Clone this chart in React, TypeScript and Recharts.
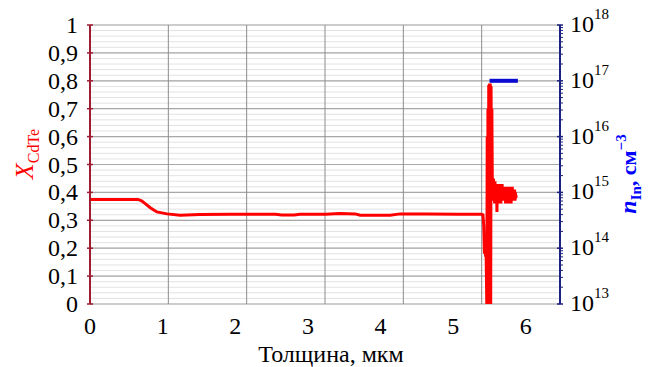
import React from 'react';
import { LineChart, Line, XAxis, YAxis, CartesianGrid, ReferenceLine } from 'recharts';

// Composition profile X_CdTe along the layer thickness, µm
const thickness = [
  0, 0.3, 0.66, 0.71, 0.76, 0.83, 0.92, 1.06, 1.24, 1.51, 1.94, 2.37, 2.55, 2.64, 2.81, 2.89, 3.24, 3.44,
  3.65, 3.72, 3.88, 4.13, 4.27, 4.64, 5.07, 5.39, 5.41,
  // interface region
  5.42, 5.43, 5.435, 5.446, 5.451, 5.462, 5.468, 5.473, 5.478, 5.484, 5.489, 5.494, 5.5, 5.505, 5.51,
  5.516, 5.521, 5.527, 5.532, 5.538,
  // cap layer
  5.543, 5.548, 5.554, 5.559, 5.565, 5.57, 5.575, 5.581, 5.586, 5.592, 5.597, 5.602, 5.608, 5.613,
  5.619, 5.624, 5.629, 5.635, 5.64, 5.646, 5.651, 5.656, 5.662, 5.667, 5.673, 5.678, 5.683, 5.689,
  5.694, 5.7, 5.705, 5.71, 5.716, 5.721, 5.727, 5.732, 5.737, 5.743, 5.748, 5.754, 5.759, 5.764,
  5.77, 5.775, 5.781, 5.786, 5.791, 5.797, 5.802, 5.808, 5.813, 5.818, 5.824, 5.829, 5.835, 5.84,
  5.845, 5.851, 5.856, 5.862, 5.866, 5.872,
];
const xCdTe = [
  0.375, 0.375, 0.375, 0.37, 0.36, 0.345, 0.33, 0.323, 0.318, 0.321, 0.322, 0.322, 0.322, 0.319, 0.319,
  0.322, 0.322, 0.324, 0.323, 0.318, 0.318, 0.318, 0.323, 0.323, 0.322, 0.322, 0.32,
  0.28, 0.18, 0.24, 0.17, 0.22, 0.0, 0.6, 0.0, 0.7, 0.0, 0.785, 0.0, 0.79, 0.02, 0.79,
  0.0, 0.78, 0.45, 0.7, 0.44,
  0.44, 0.37, 0.45, 0.38, 0.43, 0.36, 0.44, 0.37, 0.42, 0.36, 0.43, 0.33, 0.42, 0.37,
  0.43, 0.36, 0.42, 0.37, 0.43, 0.38, 0.42, 0.36, 0.42, 0.37, 0.43, 0.37, 0.42, 0.38,
  0.42, 0.37, 0.42, 0.37, 0.41, 0.36, 0.42, 0.37, 0.41, 0.36, 0.42, 0.37, 0.41, 0.36,
  0.41, 0.37, 0.42, 0.37, 0.41, 0.36, 0.41, 0.37, 0.42, 0.37, 0.41, 0.37, 0.41, 0.38,
  0.41, 0.37, 0.4, 0.38, 0.39, 0.39,
];

// Indium concentration, cm^-3
const inThickness = [5.5, 5.89];
const nIn = [1e17, 1e17];

const tickLabelsX = [0, 1, 2, 3, 4, 5, 6];
const gridX = [1, 2, 3, 4, 5];
const leftTicks = [0, 0.1, 0.2, 0.3, 0.4, 0.5, 0.6, 0.7, 0.8, 0.9, 1];
const minorTicksLeft = Array.from({ length: 51 }, (_, i) => i / 50);
const decades = [1e13, 1e14, 1e15, 1e16, 1e17, 1e18];
const rightTicks: number[] = [];
decades.forEach((d, i) => {
  rightTicks.push(d);
  if (i < decades.length - 1) for (let m = 2; m <= 9; m++) rightTicks.push(d * m);
});

const cdteData = thickness.map((t, i) => ({ t, x: xCdTe[i] }));
const inData = inThickness.map((t, i) => ({ t, n: nIn[i] }));

const SERIF = '"Liberation Serif", "Times New Roman", serif';
const RED_AXIS = '#a01c30';
const BLUE_AXIS = '#1c2280';
const txt = (size: number, extra: React.CSSProperties = {}): React.CSSProperties => ({
  fontFamily: SERIF,
  fontSize: size,
  ...extra,
});

const Blank = () => <g />;

const LeftTick = ({ x, y, payload }: any) => {
  const v = payload.value as number;
  const s = v === 0 || v === 1 ? String(v) : v.toFixed(1).replace('.', ',');
  return (
    <g>
      <line x1={x - 3} x2={x + 3} y1={y} y2={y} stroke={RED_AXIS} strokeWidth={1.5} />
      <text x={x - 12} y={y + 8} textAnchor="end" fill="#000" style={txt(24)}>
        {s}
      </text>
    </g>
  );
};

const RightTick = ({ x, y, payload }: any) => {
  const v = payload.value as number;
  const lg = Math.log10(v);
  const major = Math.abs(lg - Math.round(lg)) < 1e-6;
  if (!major) {
    return <line x1={x - 1} x2={x + 3} y1={y} y2={y} stroke={BLUE_AXIS} strokeWidth={1} />;
  }
  return (
    <g>
      <line x1={x - 3} x2={x + 3} y1={y} y2={y} stroke={BLUE_AXIS} strokeWidth={1.5} />
      <text x={x + 10} y={y + 7} fill="#000" style={txt(24)}>
        10
        <tspan dy={-13} style={{ fontSize: 15 }}>
          {Math.round(lg)}
        </tspan>
      </text>
    </g>
  );
};

const BottomTick = ({ x, y, payload }: any) => (
  <text x={x} y={y + 29} textAnchor="middle" fill="#000" style={txt(24)}>
    {payload.value}
  </text>
);

const leftTitle = () => (
  <text x={33} y={154} transform="rotate(-90, 33, 154)" textAnchor="middle" fill="#ff0000" style={txt(26)}>
    <tspan style={{ fontStyle: 'italic', fontSize: 26 }}>X</tspan>
    <tspan dy={6} style={{ fontSize: 16 }}>CdTe</tspan>
  </text>
);

const rightTitle = () => (
  <text
    x={636}
    y={174}
    transform="rotate(-90, 636, 174)"
    textAnchor="middle"
    fill="#0000ff"
    style={txt(22, { fontWeight: 'bold' })}
  >
    <tspan style={{ fontStyle: 'italic', fontSize: 24 }}>n</tspan>
    <tspan dy={5} style={{ fontSize: 15 }}>In</tspan>
    <tspan dy={-5} style={{ fontSize: 22 }}>, см</tspan>
    <tspan dy={-10} style={{ fontSize: 15 }}>−3</tspan>
  </text>
);

const bottomTitle = () => (
  <text x={331} y={362} textAnchor="middle" fill="#000" style={txt(24)}>
    Толщина, мкм
  </text>
);

export default function App() {
  return (
    <div style={{ width: 650, height: 367, background: '#fff' }}>
      <style>{'body{margin:0}'}</style>
      <LineChart
        width={650}
        height={367}
        data={inData}
        margin={{ top: 25, right: 0, bottom: 0, left: 0 }}
      >
        {/* axis that carries the vertical grid lines */}
        <XAxis
          xAxisId="grid"
          type="number"
          dataKey="t"
          domain={[0, 6]}
          ticks={gridX}
          allowDataOverflow
          interval={0}
          height={1}
          axisLine={false}
          tickLine={false}
          tick={<Blank />}
        />
        <XAxis
          xAxisId="label"
          type="number"
          dataKey="t"
          domain={[0, 6.47]}
          ticks={tickLabelsX}
          allowDataOverflow
          interval={0}
          height={62}
          axisLine={false}
          tickLine={false}
          tickSize={0}
          tickMargin={0}
          tick={<BottomTick />}
          label={bottomTitle}
        />
        <YAxis
          yAxisId="minor"
          type="number"
          domain={[0, 1]}
          ticks={minorTicksLeft}
          allowDataOverflow
          interval={0}
          width={0}
          axisLine={false}
          tickLine={false}
          tick={<Blank />}
        />
        <YAxis
          yAxisId="left"
          type="number"
          domain={[0, 1]}
          ticks={leftTicks}
          allowDataOverflow
          interval={0}
          width={90}
          axisLine={{ stroke: RED_AXIS, strokeWidth: 2 }}
          tickLine={false}
          tickSize={0}
          tickMargin={0}
          tick={<LeftTick />}
          label={leftTitle}
        />
        <YAxis
          yAxisId="right"
          orientation="right"
          type="number"
          scale="log"
          domain={[1e13, 1e18]}
          ticks={rightTicks}
          allowDataOverflow
          interval={0}
          width={90}
          axisLine={{ stroke: BLUE_AXIS, strokeWidth: 2 }}
          tickLine={false}
          tickSize={0}
          tickMargin={0}
          tick={<RightTick />}
          label={rightTitle}
        />
        <CartesianGrid xAxisId="grid" yAxisId="minor" vertical={false} stroke="#e2e2e2" strokeWidth={1} />
        {leftTicks.map((v) => (
          <ReferenceLine key={`h${v}`} xAxisId="grid" yAxisId="left" y={v} stroke="#a8a8a8" strokeWidth={1.2} />
        ))}
        {gridX.map((v) => (
          <ReferenceLine key={`v${v}`} xAxisId="grid" yAxisId="left" x={v} stroke="#8c8c8c" strokeWidth={1} />
        ))}
        <Line
          xAxisId="label"
          yAxisId="left"
          data={cdteData}
          dataKey="x"
          type="linear"
          stroke="#ff0000"
          strokeWidth={3}
          dot={false}
          isAnimationActive={false}
        />
        <Line
          xAxisId="label"
          yAxisId="right"
          dataKey="n"
          type="linear"
          stroke="#0a0ad0"
          strokeWidth={4}
          dot={false}
          isAnimationActive={false}
        />
      </LineChart>
    </div>
  );
}
